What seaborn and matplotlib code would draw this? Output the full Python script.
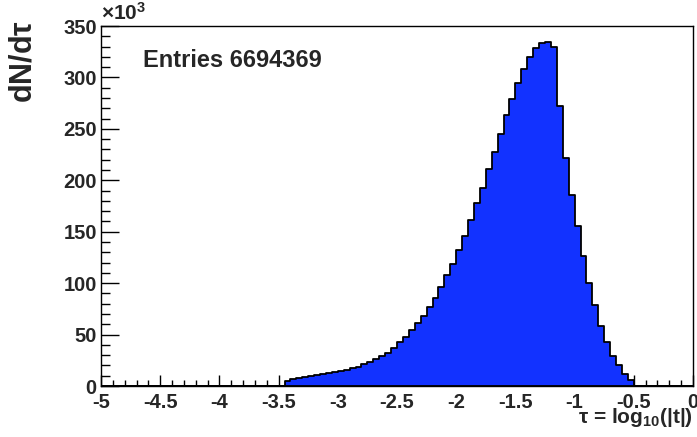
import numpy as np
import pandas as pd
import matplotlib
matplotlib.use("Agg")
import matplotlib.pyplot as plt
import seaborn as sns
from matplotlib.ticker import MultipleLocator

# histogram contents, bins of width 0.05 in tau, counts in units of 10^3
bin_low = -3.45
bin_width = 0.05
counts_k = [
    5.0, 6.5, 7.8, 8.4, 9.4, 10.4, 11.4, 12.3, 13.3, 14.3,
    15.6, 17.2, 18.8, 21.0, 23.3, 26.0, 29.0, 32.4, 37.0, 42.5,
    48.0, 54.2, 61.4, 68.2, 76.7, 85.6, 96.4, 107.8, 119.0, 132.0,
    145.8, 161.5, 177.8, 192.8, 211.0, 227.5, 245.3, 263.5, 279.3, 295.0,
    308.5, 319.6, 328.8, 333.4, 334.6, 329.3, 272.2, 222.0, 185.8, 155.3,
    126.0, 100.6, 78.8, 58.5, 42.6, 29.1, 20.3, 11.4, 5.8,
]
entries = 6694369
x_label = r"$\tau$ = log$_{10}$(|t|)"
y_label = r"dN/d$\tau$"

tau = np.round(bin_low + bin_width / 2 + bin_width * np.arange(len(counts_k)), 3)
edges = np.round(np.linspace(-5, 0, 101), 3).tolist()
df = pd.DataFrame({"tau": tau, "n": counts_k})

sns.set_style("white")
plt.rcParams["font.family"] = ["Liberation Sans", "DejaVu Sans"]
plt.rcParams["font.weight"] = "bold"
plt.rcParams["axes.unicode_minus"] = False
plt.rcParams["mathtext.fontset"] = "custom"
plt.rcParams["mathtext.rm"] = "Liberation Sans:bold"
plt.rcParams["mathtext.default"] = "rm"

fig = plt.figure(figsize=(6.97, 4.37), dpi=100)
ax = fig.add_axes([101 / 697, 1 - 386 / 437, 592 / 697, 360 / 437])

sns.histplot(data=df, x="tau", weights="n", bins=edges, element="step", fill=True,
             color="#1232ff", alpha=1.0, edgecolor="black", linewidth=1.3, ax=ax)

ax.set_xlim(-5, 0)
ax.set_ylim(0, 350)
ax.set_xlabel("")
ax.set_ylabel("")

ax.xaxis.set_major_locator(MultipleLocator(0.5))
ax.xaxis.set_minor_locator(MultipleLocator(0.1))
ax.yaxis.set_major_locator(MultipleLocator(50))
ax.yaxis.set_minor_locator(MultipleLocator(10))
ax.xaxis.set_major_formatter(plt.FuncFormatter(lambda v, p: f"{v:g}"))

ax.tick_params(axis="x", which="major", direction="in", length=8, width=1,
               labelsize=14.5, pad=5, bottom=True, top=False, color="black")
ax.tick_params(axis="x", which="minor", direction="in", length=4.3, width=1,
               bottom=True, top=False, color="black")
ax.tick_params(axis="y", which="major", direction="in", length=13, width=1,
               labelsize=14.5, pad=3, left=True, right=False, color="black")
ax.tick_params(axis="y", which="minor", direction="in", length=6.5, width=1,
               left=True, right=False, color="black")
for lab in ax.get_xticklabels() + ax.get_yticklabels():
    lab.set_fontweight("bold")

for side in ["left", "bottom", "top", "right"]:
    ax.spines[side].set_visible(True)
    ax.spines[side].set_color("black")
    ax.spines[side].set_linewidth(1.0)

fig.text(101 / 697, 1 - 13 / 437, r"$\times$10$^{3}$", fontsize=15, fontweight="bold",
         ha="left", va="center")
fig.text(143 / 697, 1 - 67 / 437, f"Entries {entries}", fontsize=17, fontweight="bold",
         ha="left", va="baseline")
fig.text(693 / 697, 1 - 423 / 437, x_label, fontsize=15, fontweight="bold",
         ha="right", va="baseline")
fig.text(23 / 697, 1 - 20 / 437, y_label, fontsize=22, fontweight="bold",
         rotation=90, ha="center", va="top")

fig.savefig("out.png", dpi=100)
